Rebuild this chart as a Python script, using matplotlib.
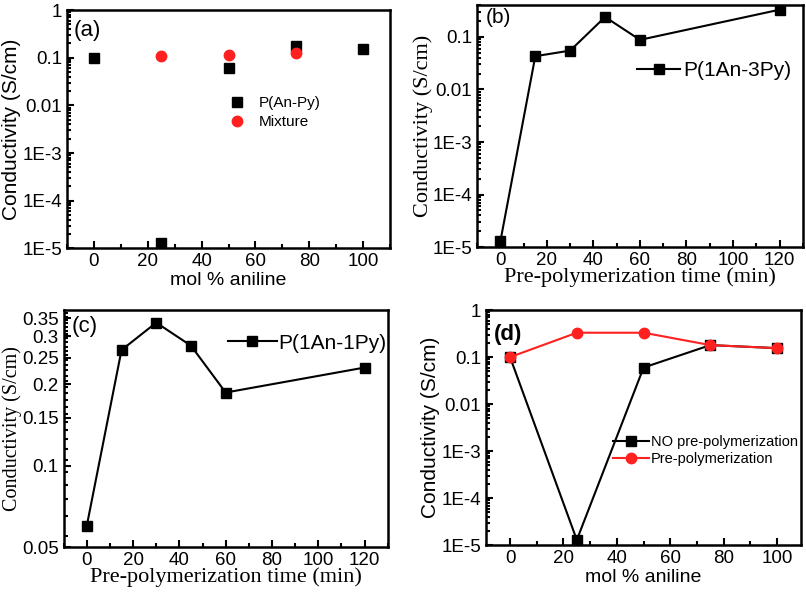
import numpy as np
import matplotlib.pyplot as plt
from matplotlib.ticker import FixedLocator, MultipleLocator, LogLocator, NullFormatter

# (a) conductivity vs mol % aniline
a_x = [0, 25, 50, 75, 100]
a_copoly = [0.1, 1.3e-5, 0.06, 0.18, 0.155]
a_mix_x = [25, 50, 75]
a_mix = [0.107, 0.115, 0.125]

# (b) P(1An-3Py) vs pre-polymerization time
b_t = [0, 15, 30, 45, 60, 120]
b_val = [1.3e-5, 0.043, 0.055, 0.24, 0.088, 0.33]

# (c) P(1An-1Py) vs pre-polymerization time
c_t = [0, 15, 30, 45, 60, 120]
c_val = [0.06, 0.267, 0.337, 0.277, 0.186, 0.23]

# (d) with / without pre-polymerization
d_x = [0, 25, 50, 75, 100]
d_nopre = [0.1, 1.3e-5, 0.06, 0.18, 0.155]
d_pre = [0.1, 0.33, 0.33, 0.18, 0.155]

log_ticks = [1e-5, 1e-4, 1e-3, 0.01, 0.1, 1]
log_labels = ['1E-5', '1E-4', '1E-3', '0.01', '0.1', '1']

SANS = 'Liberation Sans'
SERIF = 'Liberation Serif'
plt.rcParams['font.family'] = SANS
plt.rcParams['axes.linewidth'] = 1.8


def style_axes(ax):
    ax.tick_params(which='both', direction='in', top=False, right=False,
                   labelsize=13.5, width=1.5)
    ax.tick_params(which='major', length=5)
    ax.tick_params(which='minor', length=3)
    ax.xaxis.set_minor_locator(MultipleLocator(10))


def log_yaxis(ax, top=1):
    ax.set_yscale('log')
    ax.set_ylim(1e-5, top)
    ax.yaxis.set_major_locator(FixedLocator(log_ticks))
    ax.set_yticklabels(log_labels)
    ax.yaxis.set_minor_locator(LogLocator(base=10, subs=np.arange(2, 10)))
    ax.yaxis.set_minor_formatter(NullFormatter())


fig = plt.figure(figsize=(8.06, 5.94), dpi=100)

# ---- (a)
ax = fig.add_axes([0.083, 0.582, 0.401, 0.401])
ax.plot(a_x, a_copoly, 's', color='black', ms=7, label='P(An-Py)')
ax.plot(a_mix_x, a_mix, 'o', color='#ff2020', ms=7.5, label='Mixture')
log_yaxis(ax, 1)
ax.set_xlim(-10, 110)
ax.set_xticks([0, 20, 40, 60, 80, 100])
style_axes(ax)
ax.set_xlabel('mol % aniline', fontsize=14, labelpad=1)
ax.set_ylabel('Conductivity (S/cm)', fontsize=15, labelpad=1)
ax.text(0.02, 0.96, '(a)', transform=ax.transAxes, fontsize=16, va='top')
ax.legend(loc='center left', bbox_to_anchor=(0.498, 0.569), frameon=False,
          fontsize=11, handletextpad=0.85, labelspacing=0.3, handlelength=1.2,
          borderpad=0, borderaxespad=0)

# ---- (b)
ax = fig.add_axes([0.592, 0.584, 0.404, 0.408])
ax.plot(b_t, b_val, 's-', color='black', ms=7, lw=1.5, label='P(1An-3Py)')
log_yaxis(ax, 0.41)
ax.set_xlim(-10, 130)
ax.set_xticks([0, 20, 40, 60, 80, 100, 120])
style_axes(ax)
ax.set_xlabel('Pre-polymerization time (min)', fontsize=16, family=SERIF, labelpad=-1)
ax.set_ylabel('Conductivity (S/cm)', fontsize=16, family=SERIF, labelpad=0)
ax.text(0.025, 0.985, '(b)', transform=ax.transAxes, fontsize=15, va='top')
ax.legend(loc='center left', bbox_to_anchor=(0.49, 0.727), frameon=False,
          fontsize=15, handletextpad=0.15, handlelength=2.1,
          borderpad=0, borderaxespad=0)

# ---- (c)
ax = fig.add_axes([0.079, 0.079, 0.402, 0.399])
ax.plot(c_t, c_val, 's-', color='black', ms=7, lw=1.5, label='P(1An-1Py)')
ax.set_yscale('log')
ax.set_ylim(0.05, 0.375)
ax.yaxis.set_major_locator(FixedLocator([0.05, 0.1, 0.15, 0.2, 0.25, 0.3, 0.35]))
ax.set_yticklabels(['0.05', '0.1', '0.15', '0.2', '0.25', '0.3', '0.35'])
ax.yaxis.set_minor_locator(FixedLocator(np.arange(0.055, 0.37, 0.01)))
ax.yaxis.set_minor_formatter(NullFormatter())
ax.set_xlim(-10, 130)
ax.set_xticks([0, 20, 40, 60, 80, 100, 120])
style_axes(ax)
ax.set_xlabel('Pre-polymerization time (min)', fontsize=16, family=SERIF, labelpad=-1)
ax.set_ylabel('Conductivity (S/cm)', fontsize=14.5, family=SERIF, labelpad=0)
ax.text(0.025, 0.975, '(c)', transform=ax.transAxes, fontsize=16, va='top')
ax.legend(loc='center left', bbox_to_anchor=(0.506, 0.861), frameon=False,
          fontsize=15, handletextpad=0.1, handlelength=2.35,
          borderpad=0, borderaxespad=0)

# ---- (d)
ax = fig.add_axes([0.603, 0.082, 0.391, 0.396])
ax.plot(d_x, d_nopre, 's-', color='black', ms=7, lw=1.5, label='NO pre-polymerization')
ax.plot(d_x, d_pre, 'o-', color='#ff2020', ms=7.5, lw=1.5, label='Pre-polymerization')
log_yaxis(ax, 1)
ax.set_xlim(-9, 109)
ax.set_xticks([0, 20, 40, 60, 80, 100])
style_axes(ax)
ax.set_xlabel('mol % aniline', fontsize=14, labelpad=1)
ax.set_ylabel('Conductivity (S/cm)', fontsize=15, labelpad=1)
ax.text(0.025, 0.94, '(d)', transform=ax.transAxes, fontsize=16, fontweight='bold', va='top')
ax.legend(loc='center left', bbox_to_anchor=(0.403, 0.404), frameon=False,
          fontsize=10.5, handletextpad=0.1, labelspacing=0.2, handlelength=2.5,
          borderpad=0, borderaxespad=0)

fig.savefig('out.png', dpi=100)
